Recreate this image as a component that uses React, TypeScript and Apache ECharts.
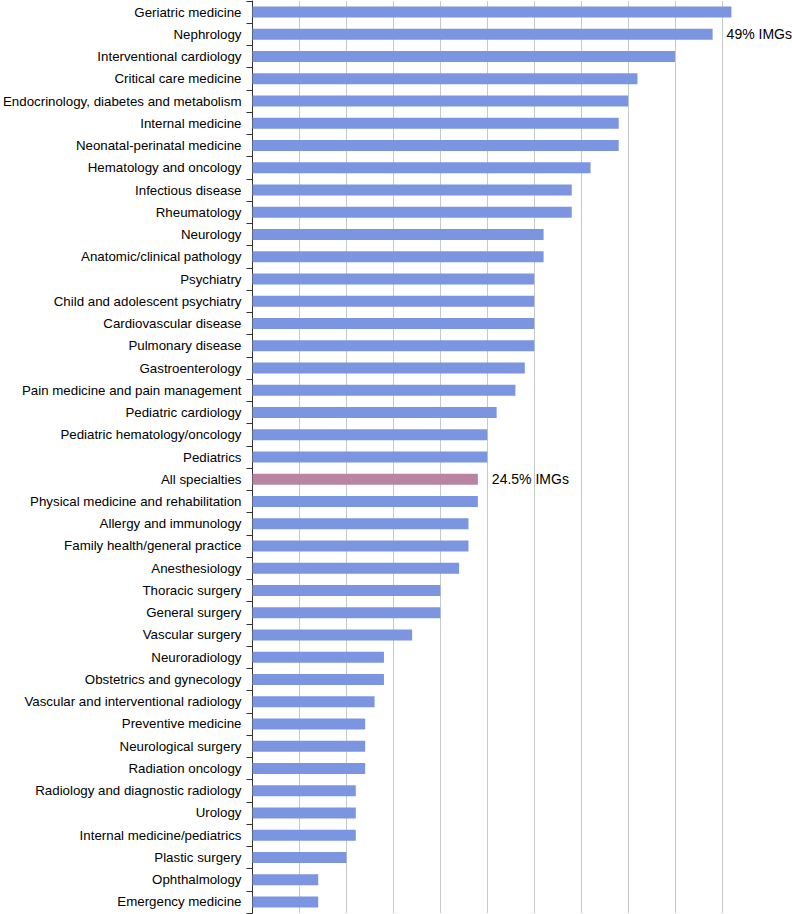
import React, { useEffect, useRef } from "react";
import * as echarts from "echarts";

const categories = [
  "Geriatric medicine",
  "Nephrology",
  "Interventional cardiology",
  "Critical care medicine",
  "Endocrinology, diabetes and metabolism",
  "Internal medicine",
  "Neonatal-perinatal medicine",
  "Hematology and oncology",
  "Infectious disease",
  "Rheumatology",
  "Neurology",
  "Anatomic/clinical pathology",
  "Psychiatry",
  "Child and adolescent psychiatry",
  "Cardiovascular disease",
  "Pulmonary disease",
  "Gastroenterology",
  "Pain medicine and pain management",
  "Pediatric cardiology",
  "Pediatric hematology/oncology",
  "Pediatrics",
  "All specialties",
  "Physical medicine and rehabilitation",
  "Allergy and immunology",
  "Family health/general practice",
  "Anesthesiology",
  "Thoracic surgery",
  "General surgery",
  "Vascular surgery",
  "Neuroradiology",
  "Obstetrics and gynecology",
  "Vascular and interventional radiology",
  "Preventive medicine",
  "Neurological surgery",
  "Radiation oncology",
  "Radiology and diagnostic radiology",
  "Urology",
  "Internal medicine/pediatrics",
  "Plastic surgery",
  "Ophthalmology",
  "Emergency medicine",
];

const imgShare = [
  51, 49, 45, 41, 40, 39, 39, 36, 34, 34, 31, 31, 30, 30, 30, 30, 29, 28, 26,
  25, 25, 24, 24, 23, 23, 22, 20, 20, 17, 14, 14, 13, 12, 12, 12, 11, 11, 11,
  10, 7, 7,
];

const highlightCategory = "All specialties";
const annotatedCategories = ["Nephrology", "All specialties"];
const annotationTexts = ["49% IMGs", "24.5% IMGs"];

const axisMin = 0;
const axisMax = 50;
const axisInterval = 5;

const BAR_COLOR = "#7b95e0";
const HIGHLIGHT_COLOR = "#b8849f";
const FONT = "'Liberation Sans', Arial, Helvetica, sans-serif";

export default function App() {
  const ref = useRef<HTMLDivElement>(null);

  useEffect(() => {
    if (!ref.current) return;
    const chart = echarts.init(ref.current, undefined, { renderer: "svg" });

    const data = categories.map((c, i) => {
      const item: any = { value: imgShare[i] };
      if (c === highlightCategory) {
        item.itemStyle = { color: HIGHLIGHT_COLOR };
      }
      const a = annotatedCategories.indexOf(c);
      if (a >= 0) {
        item.label = {
          show: true,
          position: "right",
          distance: 14,
          formatter: annotationTexts[a],
          fontFamily: FONT,
          fontSize: 14,
          color: "#000",
        };
      }
      return item;
    });

    chart.setOption({
      animation: false,
      grid: {
        left: 250,
        top: 1,
        width: 472,
        height: 912,
        containLabel: false,
      },
      xAxis: {
        type: "value",
        min: axisMin,
        max: axisMax,
        interval: axisInterval,
        axisLabel: { show: false },
        axisLine: { show: false },
        axisTick: { show: false },
        splitLine: {
          show: true,
          lineStyle: { color: "#c4c9c9", width: 1 },
        },
      },
      yAxis: {
        type: "category",
        data: categories,
        inverse: true,
        axisLine: { show: true, lineStyle: { color: "#333", width: 1 } },
        axisTick: {
          show: true,
          length: 6,
          lineStyle: { color: "#333", width: 1 },
        },
        axisLabel: {
          color: "#000",
          fontFamily: FONT,
          fontSize: 13.3,
          margin: 11,
        },
        splitLine: { show: false },
      },
      series: [
        {
          type: "bar",
          data,
          barWidth: 11,
          clip: false,
          itemStyle: { color: BAR_COLOR },
        },
      ],
    });

    return () => chart.dispose();
  }, []);

  return (
    <div
      ref={ref}
      style={{
        position: "fixed",
        left: 0,
        top: 0,
        width: 792,
        height: 914,
        background: "#fff",
      }}
    />
  );
}
